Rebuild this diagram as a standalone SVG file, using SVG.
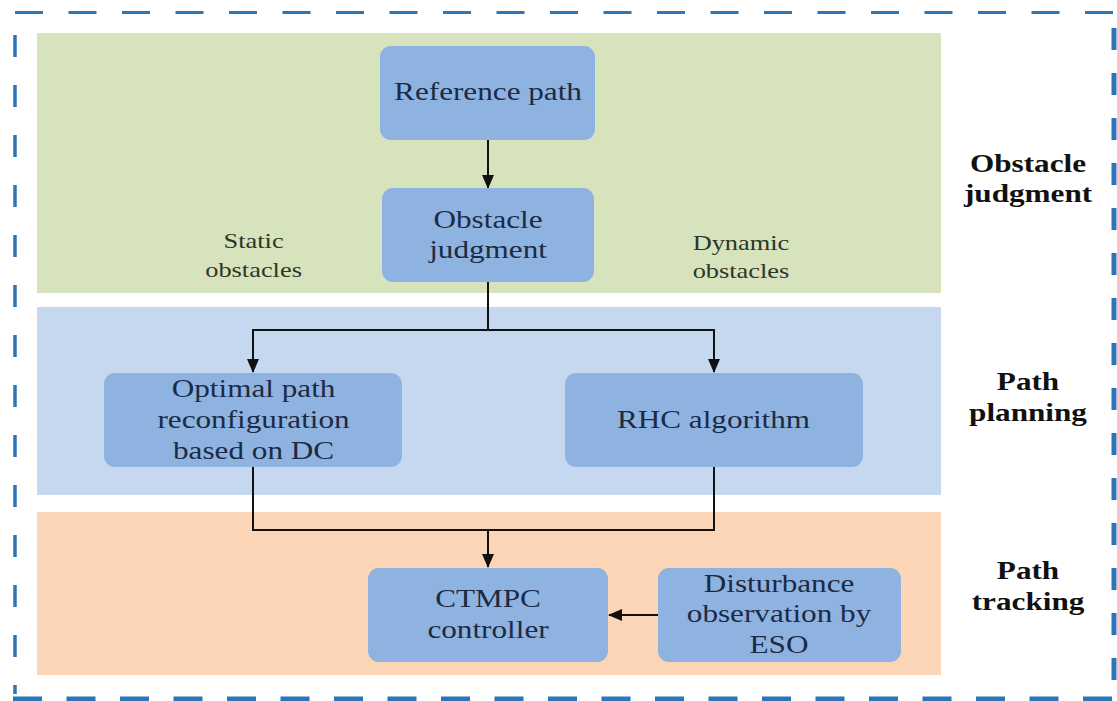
<svg xmlns="http://www.w3.org/2000/svg" width="1117" height="701" viewBox="0 0 1117 701">
  <defs>
    <marker id="arrow" markerUnits="userSpaceOnUse" markerWidth="14" markerHeight="12" refX="13" refY="6" orient="auto">
      <path d="M0,0 L14,6 L0,12 z" fill="#111"/>
    </marker>
    <style>
      .panel { stroke: none; }
      .node rect { fill: #8fb3e0; stroke: none; }
      .frame { fill: none; stroke: #2e75b6; }
      .wire { fill: none; stroke: #111; stroke-width: 2; }
      text { font-family: "Liberation Serif", "Times New Roman", serif; text-anchor: middle; }
      .lbl { font-size: 26px; fill: #1c2a44; }
      .side { font-size: 22px; fill: #2f3527; }
      .stage { font-size: 26px; font-weight: bold; fill: #111; }
    </style>
  </defs>

  <rect width="1117" height="701" fill="#ffffff"/>

  <!-- dashed outer frame -->
  <g id="frame">
    <line class="frame" x1="15" y1="12.5" x2="1117" y2="12.5" stroke-width="3" stroke-dasharray="28 25.5"/>
    <line class="frame" x1="15" y1="35" x2="15" y2="694" stroke-width="3.5" stroke-dasharray="22 28"/>
    <line class="frame" x1="1114" y1="28" x2="1114" y2="694" stroke-width="5" stroke-dasharray="22 23"/>
    <line class="frame" x1="13" y1="699" x2="1117" y2="699" stroke-width="5" stroke-dasharray="29 24.5"/>
  </g>

  <!-- stage panels -->
  <g id="panels">
    <rect class="panel" x="37" y="33" width="904" height="260" fill="#d6e3bd"/>
    <rect class="panel" x="37" y="307" width="904" height="188" fill="#c6d8ef"/>
    <rect class="panel" x="37" y="512" width="904" height="163" fill="#fcd5b6"/>
  </g>

  <!-- stage titles and obstacle labels -->
  <g id="labels" transform="scale(1.2 1)">
    <text class="stage" x="856.7" y="172">Obstacle</text>
    <text class="stage" x="856.7" y="202">judgment</text>
    <text class="stage" x="856.7" y="390">Path</text>
    <text class="stage" x="856.7" y="421">planning</text>
    <text class="stage" x="856.7" y="579">Path</text>
    <text class="stage" x="856.7" y="610">tracking</text>
    <text class="side" x="211.3" y="248">Static</text>
    <text class="side" x="211.3" y="277">obstacles</text>
    <text class="side" x="617.5" y="250">Dynamic</text>
    <text class="side" x="617.5" y="278">obstacles</text>
  </g>

  <!-- connectors -->
  <g id="connectors">
    <path class="wire" d="M488,140 V188" marker-end="url(#arrow)"/>
    <path class="wire" d="M488,282 V330 H253 V372" marker-end="url(#arrow)"/>
    <path class="wire" d="M488,330 H714 V372" marker-end="url(#arrow)"/>
    <path class="wire" d="M253,467 V530 H714 V467"/>
    <path class="wire" d="M488,530 V567" marker-end="url(#arrow)"/>
    <path class="wire" d="M658,615 H609" marker-end="url(#arrow)"/>
  </g>

  <!-- nodes -->
  <g id="reference-path" class="node">
    <rect x="380" y="46" width="215" height="94" rx="11"/>
    <text class="lbl" transform="scale(1.2 1)" x="406.7" y="100">Reference path</text>
  </g>
  <g id="obstacle-judgment" class="node">
    <rect x="382" y="188" width="212" height="94" rx="11"/>
    <text class="lbl" transform="scale(1.2 1)" x="406.7" y="228">Obstacle</text>
    <text class="lbl" transform="scale(1.2 1)" x="406.7" y="258">judgment</text>
  </g>
  <g id="optimal-path" class="node">
    <rect x="104" y="373" width="298" height="94" rx="11"/>
    <text class="lbl" transform="scale(1.2 1)" x="211.3" y="397">Optimal path</text>
    <text class="lbl" transform="scale(1.2 1)" x="211.3" y="428">reconfiguration</text>
    <text class="lbl" transform="scale(1.2 1)" x="211.3" y="459">based on DC</text>
  </g>
  <g id="rhc" class="node">
    <rect x="565" y="373" width="298" height="94" rx="11"/>
    <text class="lbl" transform="scale(1.2 1)" x="594.6" y="428">RHC algorithm</text>
  </g>
  <g id="ctmpc" class="node">
    <rect x="368" y="568" width="240" height="94" rx="11"/>
    <text class="lbl" transform="scale(1.2 1)" x="406.7" y="607">CTMPC</text>
    <text class="lbl" transform="scale(1.2 1)" x="406.7" y="638">controller</text>
  </g>
  <g id="eso" class="node">
    <rect x="658" y="568" width="243" height="94" rx="11"/>
    <text class="lbl" transform="scale(1.2 1)" x="649.2" y="592">Disturbance</text>
    <text class="lbl" transform="scale(1.2 1)" x="649.2" y="622">observation by</text>
    <text class="lbl" transform="scale(1.2 1)" x="649.2" y="653">ESO</text>
  </g>
</svg>
